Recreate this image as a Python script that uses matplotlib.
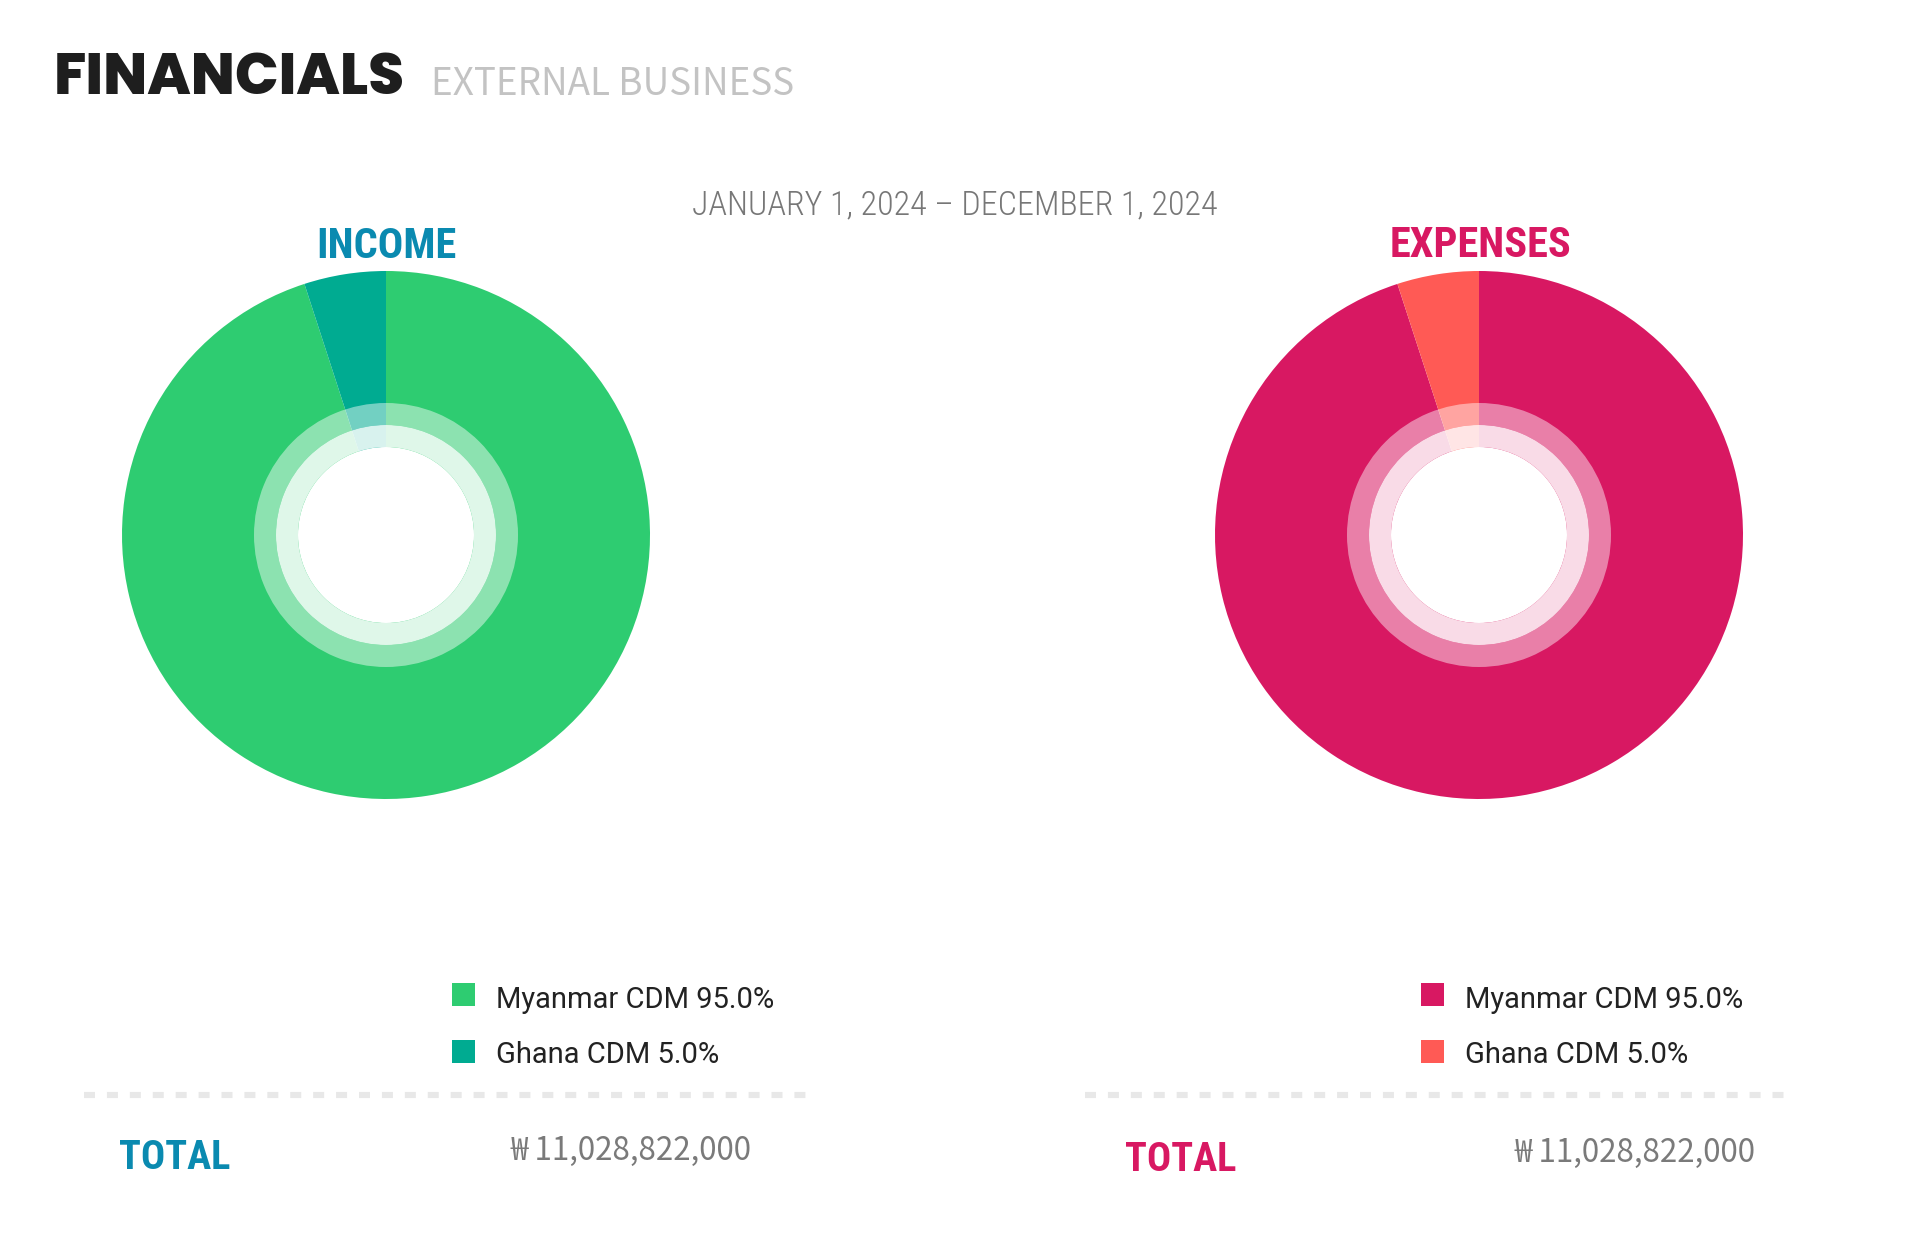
import matplotlib
matplotlib.use("Agg")
import matplotlib.pyplot as plt
from matplotlib.patches import Wedge, Circle, Rectangle

# data
categories = ["Myanmar CDM", "Ghana CDM"]
income_share = [95.0, 5.0]
expense_share = [95.0, 5.0]
income_total = "\u20a9 11,028,822,000"
expense_total = "\u20a9 11,028,822,000"
period = "JANUARY 1, 2024 \u2013 DECEMBER 1, 2024"

income_colors = ["#2ecc71", "#00ab91"]
expense_colors = ["#d81862", "#ff5a55"]
blue = "#0a8ab0"
pink = "#d81862"

W, H = 1920, 1250

kr = ["Noto Sans CJK KR", "DejaVu Sans"]
rob = ["Roboto", "DejaVu Sans"]
rc = ["Roboto Condensed", "DejaVu Sans"]
heavy = ["Poppins", "DejaVu Sans"]

fig = plt.figure(figsize=(W / 100, H / 100), dpi=100)
ax = fig.add_axes([0, 0, 1, 1])


def Y(y):
    # layout given in pixels from the top
    return H - y


def donut(cx, cy, vals, cols):
    ax.pie(vals, colors=cols, startangle=90, counterclock=False,
           center=(cx, Y(cy)), radius=264, frame=True,
           wedgeprops=dict(linewidth=0))
    ax.add_patch(Wedge((cx, Y(cy)), 132, 0, 360, width=22, fc="white", alpha=0.45, lw=0))
    ax.add_patch(Wedge((cx, Y(cy)), 110, 0, 360, width=22, fc="white", alpha=0.85, lw=0))
    ax.add_patch(Circle((cx, Y(cy)), 88, fc="white", lw=0))


donut(386, 535, income_share, income_colors)
donut(1479, 535, expense_share, expense_colors)

# header
ax.text(54, Y(94), "FINANCIALS", fontsize=41.5, fontweight=800, family=heavy,
        color="#1e1e1e", va="baseline")
ax.text(431, Y(95), "EXTERNAL BUSINESS", fontsize=26.5, family=kr,
        color="#c3c3c3", va="baseline")
ax.text(955, Y(214), period, fontsize=24.5, family=rc, fontweight="light",
        color="#777777", ha="center", va="baseline")
ax.text(386, Y(258), "INCOME", fontsize=30.5, family=rc, fontweight="bold",
        color=blue, ha="center", va="baseline")
ax.text(1480, Y(257), "EXPENSES", fontsize=30.5, family=rc, fontweight="bold",
        color=pink, ha="center", va="baseline")

# legends
for x0, shares, cols in [(452, income_share, income_colors), (1421, expense_share, expense_colors)]:
    for i, (name, v) in enumerate(zip(categories, shares)):
        top = 983 + i * 57
        ax.add_patch(Rectangle((x0, Y(top + 23)), 23, 23, fc=cols[i], lw=0))
        ax.text(x0 + 44, Y(1008 + i * 55), f"{name} {v:.1f}%", fontsize=21,
                family=rob, color="#222222", va="baseline")

# dashed separators
for xa, xb in [(84, 810), (1085, 1790)]:
    ax.plot([xa, xb], [Y(1095), Y(1095)], color="#e8e8e8", lw=4.4,
            ls=(0, (1.8, 1.95)), solid_capstyle="butt", dash_capstyle="butt")

# totals
ax.text(119, Y(1169), "TOTAL", fontsize=29, family=rc, fontweight="bold",
        color=blue, va="baseline")
ax.text(1125, Y(1171), "TOTAL", fontsize=29, family=rc, fontweight="bold",
        color=pink, va="baseline")
ax.text(510, Y(1160), income_total, fontsize=22.5, family=kr,
        fontweight="light", color="#7a7a7a", va="baseline")
ax.text(1515, Y(1162), expense_total, fontsize=22.5, family=kr,
        fontweight="light", color="#7a7a7a", va="baseline")

ax.set_xlim(0, W)
ax.set_ylim(0, H)
ax.set_aspect("equal")
ax.axis("off")

fig.savefig("out.png", dpi=100, facecolor="white")
